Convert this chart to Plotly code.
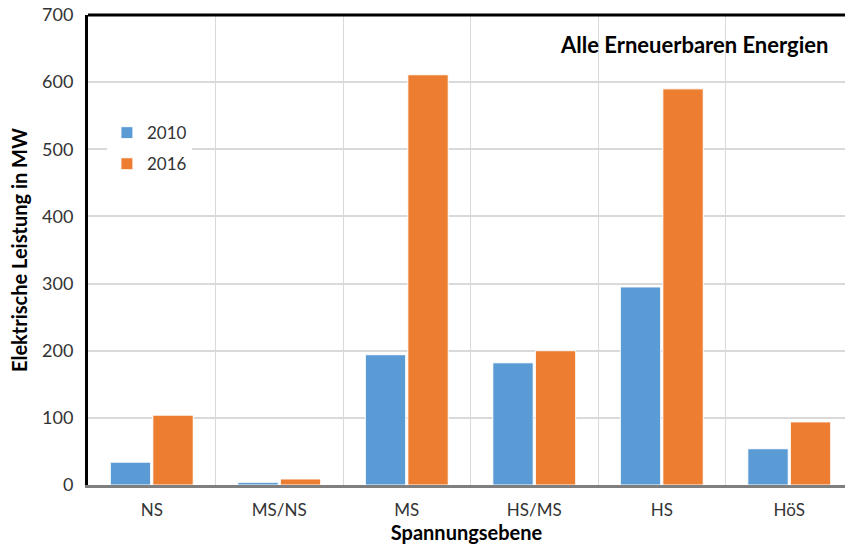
import plotly.graph_objects as go

categories = ["NS", "MS/NS", "MS", "HS/MS", "HS", "HöS"]
values_2010 = [34, 4, 194, 182, 295, 54]
values_2016 = [104, 9, 611, 200, 590, 94]
y_ticks = [0, 100, 200, 300, 400, 500, 600, 700]

FONT = "Lato"

fig = go.Figure()
fig.add_trace(go.Bar(x=categories, y=values_2010, name="2010", legendgroup="a",
                     marker=dict(color="#5B9BD5", line=dict(color="white", width=1))))
fig.add_trace(go.Bar(x=categories, y=values_2016, name="2016", legendgroup="b",
                     marker=dict(color="#ED7D31", line=dict(color="white", width=1))))

fig.update_layout(
    width=845, height=549,
    margin=dict(l=88, r=0, t=15, b=64, autoexpand=False),
    paper_bgcolor="white", plot_bgcolor="white",
    barmode="group", bargap=0.333, bargroupgap=0.05,
    font=dict(family=FONT, size=17, color="#333333"),
    showlegend=True,
    legend=dict(x=0.025, y=0.787, xanchor="left", yanchor="top",
                bgcolor="white", font=dict(size=17, color="#333333"),
                tracegroupgap=6),
    xaxis=dict(
        range=[-0.5, 5.437], automargin=False,
        tickson="boundaries", ticks="", showgrid=True, gridcolor="#d9d9d9", gridwidth=1,
        showline=True, linecolor="#7f7f7f", linewidth=3,
        tickfont=dict(size=17, color="#333333"),
        ticklabelstandoff=8,
        title=dict(text="<b>Spannungsebene</b>", font=dict(size=20, color="black"), standoff=6),
    ),
    yaxis=dict(
        range=[0, 700], tickvals=y_ticks, ticks="", automargin=False,
        showgrid=True, gridcolor="#d9d9d9", gridwidth=2,
        showline=True, linecolor="black", linewidth=3,
        tickfont=dict(size=18, color="#333333"),
        ticklabelstandoff=8, ticklabeloverflow="allow",
        title=dict(text="<b>Elektrische Leistung in MW</b>", font=dict(size=20, color="black"), standoff=10),
        zeroline=False,
    ),
    annotations=[dict(text="<b>Alle Erneuerbaren Energien</b>", xref="paper", yref="paper",
                      x=0.98, y=0.937, xanchor="right", yanchor="middle", showarrow=False,
                      font=dict(size=22, color="black"))],
    shapes=[dict(type="line", xref="paper", yref="paper", x0=0, x1=1, y0=1, y1=1,
                 line=dict(color="black", width=3))],
)

fig.write_html("out.html", config={"displayModeBar": False},
               post_script="document.body.style.margin='0';")
